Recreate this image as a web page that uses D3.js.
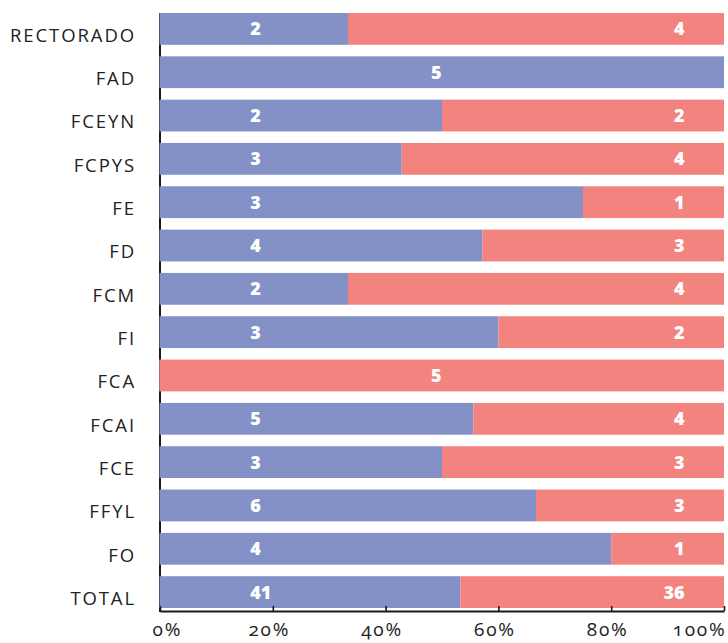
<!DOCTYPE html>
<html>
<head>
<meta charset="utf-8">
<script src="https://cdn.jsdelivr.net/npm/d3@7"></script>
<style>
  html, body { margin: 0; padding: 0; background: #fff; }
  svg { display: block; }
  .cat text { font-family: "Open Sans", sans-serif; font-size: 18.5px; letter-spacing: 1.9px; fill: #222; }
  .pct text { font-family: "Open Sans", sans-serif; font-size: 19px; letter-spacing: 1.8px; fill: #222;
              font-variant-numeric: oldstyle-nums; font-feature-settings: "onum" 1; }
  .val { font-family: "Open Sans", sans-serif; font-size: 18px; font-weight: 800; fill: #fff; }
</style>
</head>
<body>
<svg id="chart" width="728" height="643"></svg>
<script>
// Units per category, split into two groups (shown as 100% stacked bars)
const categories = ["RECTORADO", "FAD", "FCEYN", "FCPYS", "FE", "FD", "FCM",
                    "FI", "FCA", "FCAI", "FCE", "FFYL", "FO", "TOTAL"];
const firstGroup  = [2, 5, 2, 3, 3, 4, 2, 3, 0, 5, 3, 6, 4, 41];
const secondGroup = [4, 0, 2, 4, 1, 3, 4, 2, 5, 4, 3, 3, 1, 36];
const tickValues  = [0, 0.2, 0.4, 0.6, 0.8, 1];
const tickLabels  = ["0%", "20%", "40%", "60%", "80%", "100%"];

const colors = { first: "#8391c7", second: "#f3837f" };

const svg = d3.select("#chart");
const axisY = 611;

const rows = categories.map((c, i) => ({ cat: c, first: firstGroup[i], second: secondGroup[i] }));

const x = d3.scaleLinear().domain([0, 1]).range([160, 724]);
const y = d3.scaleBand().domain(categories).range([13, 608]).paddingInner(0.266).paddingOuter(0);

const stack = d3.stack().keys(["first", "second"]).offset(d3.stackOffsetExpand);
const series = stack(rows);

// left axis line (sits behind the bars)
svg.append("line")
  .attr("x1", x(0)).attr("x2", x(0))
  .attr("y1", y.range()[0]).attr("y2", axisY + 1)
  .attr("stroke", "#1a1a1a").attr("stroke-width", 2);

// stacked segments
svg.append("g").selectAll("g")
  .data(series).join("g")
  .attr("fill", d => colors[d.key])
  .selectAll("rect")
  .data(d => d).join("rect")
  .attr("x", d => x(d[0]) - (d[0] === 0 ? 0.5 : 0))
  .attr("y", d => y(d.data.cat))
  .attr("width", d => Math.max(0, x(d[1]) - x(d[0])) + (d[0] === 0 ? 0.5 : 0))
  .attr("height", y.bandwidth());

// value labels
const labels = svg.append("g");
rows.forEach(r => {
  const cy = y(r.cat) + y.bandwidth() / 2;
  const single = r.first === 0 || r.second === 0;
  if (single) {
    labels.append("text").attr("class", "val")
      .attr("x", x(0.49)).attr("y", cy).attr("dy", "0.36em")
      .attr("text-anchor", "middle")
      .text(r.first || r.second);
  } else {
    labels.append("text").attr("class", "val")
      .attr("x", x(0.16)).attr("y", cy).attr("dy", "0.36em")
      .attr("text-anchor", "start")
      .text(r.first);
    labels.append("text").attr("class", "val")
      .attr("x", x(0.93)).attr("y", cy).attr("dy", "0.36em")
      .attr("text-anchor", "end")
      .text(r.second);
  }
});

// category labels
const yAxis = svg.append("g").attr("class", "cat")
  .attr("transform", `translate(${x(0) - 24},7)`)
  .call(d3.axisLeft(y).tickSize(0).tickPadding(0));
yAxis.select(".domain").remove();

// bottom percentage axis
const xAxis = svg.append("g").attr("class", "pct")
  .attr("transform", `translate(0,${axisY})`)
  .call(d3.axisBottom(x).tickValues(tickValues)
          .tickFormat((d, i) => tickLabels[i])
          .tickSizeInner(-5).tickSizeOuter(0).tickPadding(12));
xAxis.select(".domain").attr("stroke", "#1a1a1a").attr("stroke-width", 2);
xAxis.selectAll(".tick line").attr("stroke", "#1a1a1a").attr("stroke-width", 1.6);
xAxis.selectAll(".tick text")
  .attr("fill", "#222")
  .attr("text-anchor", (d, i) => i === 0 ? "start" : (i === tickValues.length - 1 ? "end" : "middle"))
  .attr("dx", (d, i) => i === 0 ? -8 : (i === tickValues.length - 1 ? 2 : -4));
</script>
</body>
</html>
